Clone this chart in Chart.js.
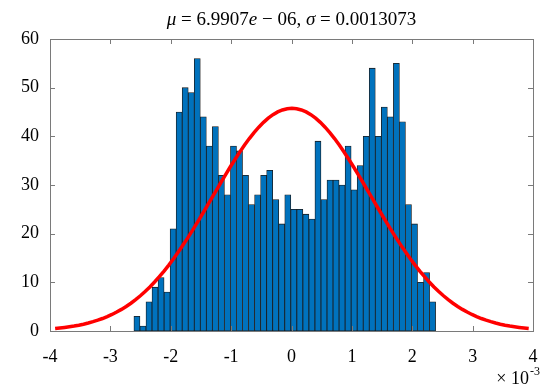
<!DOCTYPE html>
<html>
<head>
<meta charset="utf-8">
<script src="https://cdn.jsdelivr.net/npm/chart.js@4"></script>
<style>
  html, body { margin: 0; padding: 0; background: #fff; }
  #wrap { width: 555px; height: 388px; }
</style>
</head>
<body>
<div id="wrap"><canvas id="histChart"></canvas></div>
<script>
// histogram counts, 50 bins of width 1e-4 (x in units of 1e-3)
const binStart = -2.61;
const binWidth = 0.09994;
const counts = [
  3, 1, 6, 9, 11, 8, 21, 45, 50, 49,
  56, 44, 38, 42, 32, 28, 38, 37, 32, 26,
  28, 32, 33, 27, 22, 28, 25, 25, 24, 23,
  39, 27, 31, 31, 30, 38, 29, 34, 40, 54,
  40, 46, 44, 55, 43, 26, 22, 10, 12, 6
];
const xTicks = [-4, -3, -2, -1, 0, 1, 2, 3, 4];
const yTicks = [0, 10, 20, 30, 40, 50, 60];

// fitted normal (values from the title), x scaled by 1e3
const mu = 6.9907e-06 * 1e3;
const sigma = 0.0013073 * 1e3;

const total = counts.reduce((a, b) => a + b, 0);
const barPoints = counts.map((c, i) => ({ x: binStart + (i + 0.5) * binWidth, y: c }));

// pdf scaled to counts, over mu +/- 3 sigma
const fitPoints = [];
for (let k = 0; k <= 100; k++) {
  const x = mu - 3 * sigma + (6 * sigma) * k / 100;
  const z = (x - mu) / sigma;
  fitPoints.push({ x: x, y: total * binWidth * Math.exp(-0.5 * z * z) / (sigma * Math.sqrt(2 * Math.PI)) });
}

const FONT = '"Liberation Serif", "Times New Roman", serif';
const AXIS_COLOR = '#7a7a7a';

// box with inward ticks, title with italic symbols, exponent label
const decorations = {
  id: 'decorations',
  afterDraw(chart) {
    const { ctx, chartArea: a, scales } = chart;
    ctx.save();
    ctx.strokeStyle = AXIS_COLOR;
    ctx.lineWidth = 1;
    const tl = 5;
    ctx.beginPath();
    xTicks.forEach(v => {
      const px = Math.round(scales.x.getPixelForValue(v)) + 0.5;
      if (px <= a.left + 1 || px >= a.right - 1) return;
      ctx.moveTo(px, a.bottom); ctx.lineTo(px, a.bottom - tl);
      ctx.moveTo(px, a.top); ctx.lineTo(px, a.top + tl);
    });
    yTicks.forEach(v => {
      const py = Math.round(scales.y.getPixelForValue(v)) + 0.5;
      if (py <= a.top + 1 || py >= a.bottom - 1) return;
      ctx.moveTo(a.left, py); ctx.lineTo(a.left + tl, py);
      ctx.moveTo(a.right, py); ctx.lineTo(a.right - tl, py);
    });
    ctx.stroke();
    ctx.strokeRect(Math.round(a.left) + 0.5, Math.round(a.top) + 0.5,
      Math.round(a.right - a.left), Math.round(a.bottom - a.top));

    // title
    const parts = [
      ['μ', true], [' = 6.9907', false], ['e', true], [' − 06, ', false],
      ['σ', true], [' = 0.0013073', false]
    ];
    const fontFor = it => (it ? 'italic ' : '') + '19px ' + FONT;
    let w = 0;
    parts.forEach(([t, it]) => { ctx.font = fontFor(it); w += ctx.measureText(t).width; });
    let x = (a.left + a.right) / 2 - w / 2;
    ctx.fillStyle = '#000';
    ctx.textBaseline = 'alphabetic';
    ctx.textAlign = 'left';
    parts.forEach(([t, it]) => {
      ctx.font = fontFor(it);
      ctx.fillText(t, x, 25);
      x += ctx.measureText(t).width;
    });

    // x exponent
    ctx.font = '18px ' + FONT;
    ctx.textAlign = 'right';
    ctx.fillText('× 10', 529, 384);
    ctx.font = '12px ' + FONT;
    ctx.textAlign = 'left';
    ctx.fillText('-3', 530, 375);
    ctx.restore();
  }
};

new Chart(document.getElementById('histChart'), {
  data: {
    datasets: [
      {
        type: 'line',
        data: fitPoints,
        borderColor: '#ff0000',
        borderWidth: 3.5,
        pointRadius: 0,
        tension: 0,
        order: 0
      },
      {
        type: 'bar',
        data: barPoints,
        backgroundColor: '#0072bd',
        borderColor: '#1a1a1a',
        borderWidth: 0.8,
        borderSkipped: false,
        barPercentage: 1,
        categoryPercentage: 1,
        order: 1
      }
    ]
  },
  options: {
    responsive: true,
    maintainAspectRatio: false,
    animation: false,
    layout: { padding: { top: 39, right: 22, left: 0, bottom: 0 } },
    plugins: {
      legend: { display: false },
      tooltip: { enabled: false },
      title: { display: false }
    },
    scales: {
      x: {
        type: 'linear',
        min: -4,
        max: 4,
        offset: false,
        afterFit: s => { s.height = 57; },
        afterBuildTicks: s => { s.ticks = xTicks.map(v => ({ value: v })); },
        grid: { display: false, drawTicks: false, offset: false },
        border: { display: false },
        ticks: {
          color: '#000',
          font: { family: FONT, size: 18 },
          padding: 15,
          maxRotation: 0,
          callback: v => String(v)
        }
      },
      y: {
        min: 0,
        max: 60,
        afterFit: s => { s.width = 50; },
        afterBuildTicks: s => { s.ticks = yTicks.map(v => ({ value: v })); },
        grid: { display: false, drawTicks: false },
        border: { display: false },
        ticks: {
          color: '#000',
          font: { family: FONT, size: 18 },
          padding: 11
        }
      }
    }
  },
  plugins: [decorations]
});
</script>
</body>
</html>
